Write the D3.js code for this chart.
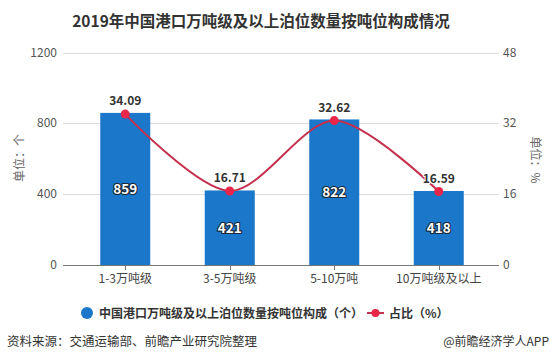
<!DOCTYPE html>
<html><head><meta charset="utf-8">
<script src="https://cdn.jsdelivr.net/npm/d3@7"></script>
<style>body{margin:0;background:#fff;}svg{display:block;font-family:"Microsoft YaHei","Noto Sans CJK SC",sans-serif;}</style>
</head><body><svg id="c" width="552" height="364"></svg>
<script>
const categories = ["1-3万吨级", "3-5万吨级", "5-10万吨", "10万吨级及以上"];
const berthCounts = [859, 421, 822, 418];
const shares = [34.09, 16.71, 32.62, 16.59];
const leftTicks = [0, 400, 800, 1200];
const rightTicks = [0, 16, 32, 48];

const svg = d3.select("#c");
const gx0 = 63, gx1 = 499, plotTop = 52.5, plotBottom = 265;
const x = d3.scaleBand().domain(categories).range([73, 491]);
const yL = d3.scaleLinear().domain([0, 1200]).range([plotBottom, plotTop]);
const yR = d3.scaleLinear().domain([0, 48]).range([plotBottom, plotTop]);
const barW = 50;

svg.append("text").attr("x", 261).attr("y", 27).attr("text-anchor", "middle")
  .attr("font-size", 15.5).attr("font-weight", "bold").attr("fill", "#333")
  .text("2019年中国港口万吨级及以上泊位数量按吨位构成情况");

// grid
svg.append("g").selectAll("line").data(leftTicks.slice(1)).join("line")
  .attr("x1", gx0).attr("x2", gx1).attr("y1", d => Math.round(yL(d)) + 0.5).attr("y2", d => Math.round(yL(d)) + 0.5)
  .attr("stroke", "#ddd").attr("stroke-width", 1);

// axis labels
svg.append("g").selectAll("text").data(leftTicks).join("text")
  .attr("x", 57).attr("y", d => yL(d) + 4).attr("text-anchor", "end")
  .attr("font-size", 12).attr("fill", "#555").text(d => d);
svg.append("g").selectAll("text").data(rightTicks).join("text")
  .attr("x", 503).attr("y", d => yR(d) + 4).attr("text-anchor", "start")
  .attr("font-size", 12).attr("fill", "#555").text(d => d);

svg.append("text").attr("transform", "translate(24,158) rotate(-90)").attr("text-anchor", "middle")
  .attr("font-size", 12).attr("fill", "#666").text("单位：个");
svg.append("text").attr("transform", "translate(531,160) rotate(90)").attr("text-anchor", "middle")
  .attr("font-size", 12).attr("fill", "#666").text("单位：%");

// bars
svg.append("g").selectAll("rect").data(categories).join("rect")
  .attr("x", d => x(d) + x.bandwidth() / 2 - barW / 2).attr("width", barW)
  .attr("y", (d, i) => yL(berthCounts[i])).attr("height", (d, i) => plotBottom - yL(berthCounts[i]))
  .attr("fill", "#1a77c9");

// x axis
svg.append("line").attr("x1", gx0).attr("x2", gx1).attr("y1", plotBottom + 0.5).attr("y2", plotBottom + 0.5).attr("stroke", "#777");
svg.append("g").selectAll("line").data(categories).join("line")
  .attr("x1", d => Math.round(x(d) + x.bandwidth() / 2) + 0.5).attr("x2", d => Math.round(x(d) + x.bandwidth() / 2) + 0.5)
  .attr("y1", plotBottom).attr("y2", plotBottom + 5).attr("stroke", "#777");
svg.append("g").selectAll("text").data(categories).join("text")
  .attr("x", d => x(d) + x.bandwidth() / 2).attr("y", plotBottom + 18).attr("text-anchor", "middle")
  .attr("font-size", 12).attr("fill", "#444").text(d => d);

// bar labels
svg.append("g").selectAll("text").data(categories).join("text")
  .attr("x", d => x(d) + x.bandwidth() / 2).attr("y", (d, i) => (yL(berthCounts[i]) + plotBottom) / 2 + 5)
  .attr("text-anchor", "middle").attr("font-size", 13.5).attr("font-weight", "bold")
  .attr("fill", "#fff").attr("stroke", "#1b2a3a").attr("stroke-width", 2.2).attr("paint-order", "stroke")
  .text((d, i) => berthCounts[i]);

// line
const pts = categories.map((c, i) => [x(c) + x.bandwidth() / 2, yR(shares[i])]);
svg.append("path").attr("d", d3.line().curve(d3.curveCardinal.tension(0.1))(pts))
  .attr("fill", "none").attr("stroke", "#c4304d").attr("stroke-width", 2);
svg.append("g").selectAll("circle").data(pts).join("circle")
  .attr("cx", d => d[0]).attr("cy", d => d[1]).attr("r", 4.5).attr("fill", "#e8264a");
svg.append("g").selectAll("text").data(pts).join("text")
  .attr("x", d => d[0]).attr("y", d => d[1] - 9).attr("text-anchor", "middle")
  .attr("font-size", 12).attr("font-weight", "bold").attr("fill", "#333")
  .attr("stroke", "#fff").attr("stroke-width", 2).attr("paint-order", "stroke")
  .text((d, i) => shares[i].toFixed(2));

// legend
svg.append("circle").attr("cx", 87).attr("cy", 313).attr("r", 6).attr("fill", "#1a77c9");
svg.append("text").attr("x", 99).attr("y", 317.5).attr("font-size", 12).attr("font-weight", "bold").attr("fill", "#333")
  .text("中国港口万吨级及以上泊位数量按吨位构成（个）");
svg.append("line").attr("x1", 367).attr("x2", 384).attr("y1", 313).attr("y2", 313).attr("stroke", "#c4304d").attr("stroke-width", 2);
svg.append("circle").attr("cx", 375.5).attr("cy", 313).attr("r", 4).attr("fill", "#e8264a");
svg.append("text").attr("x", 389).attr("y", 317.5).attr("font-size", 12).attr("font-weight", "bold").attr("fill", "#333")
  .text("占比（%）");

// source
svg.append("text").attr("x", 7).attr("y", 346).attr("font-size", 12.5).attr("fill", "#333")
  .text("资料来源：交通运输部、前瞻产业研究院整理");
svg.append("text").attr("x", 549).attr("y", 346).attr("text-anchor", "end").attr("font-size", 12).attr("fill", "#333")
  .text("@前瞻经济学人APP");
</script></body></html>
